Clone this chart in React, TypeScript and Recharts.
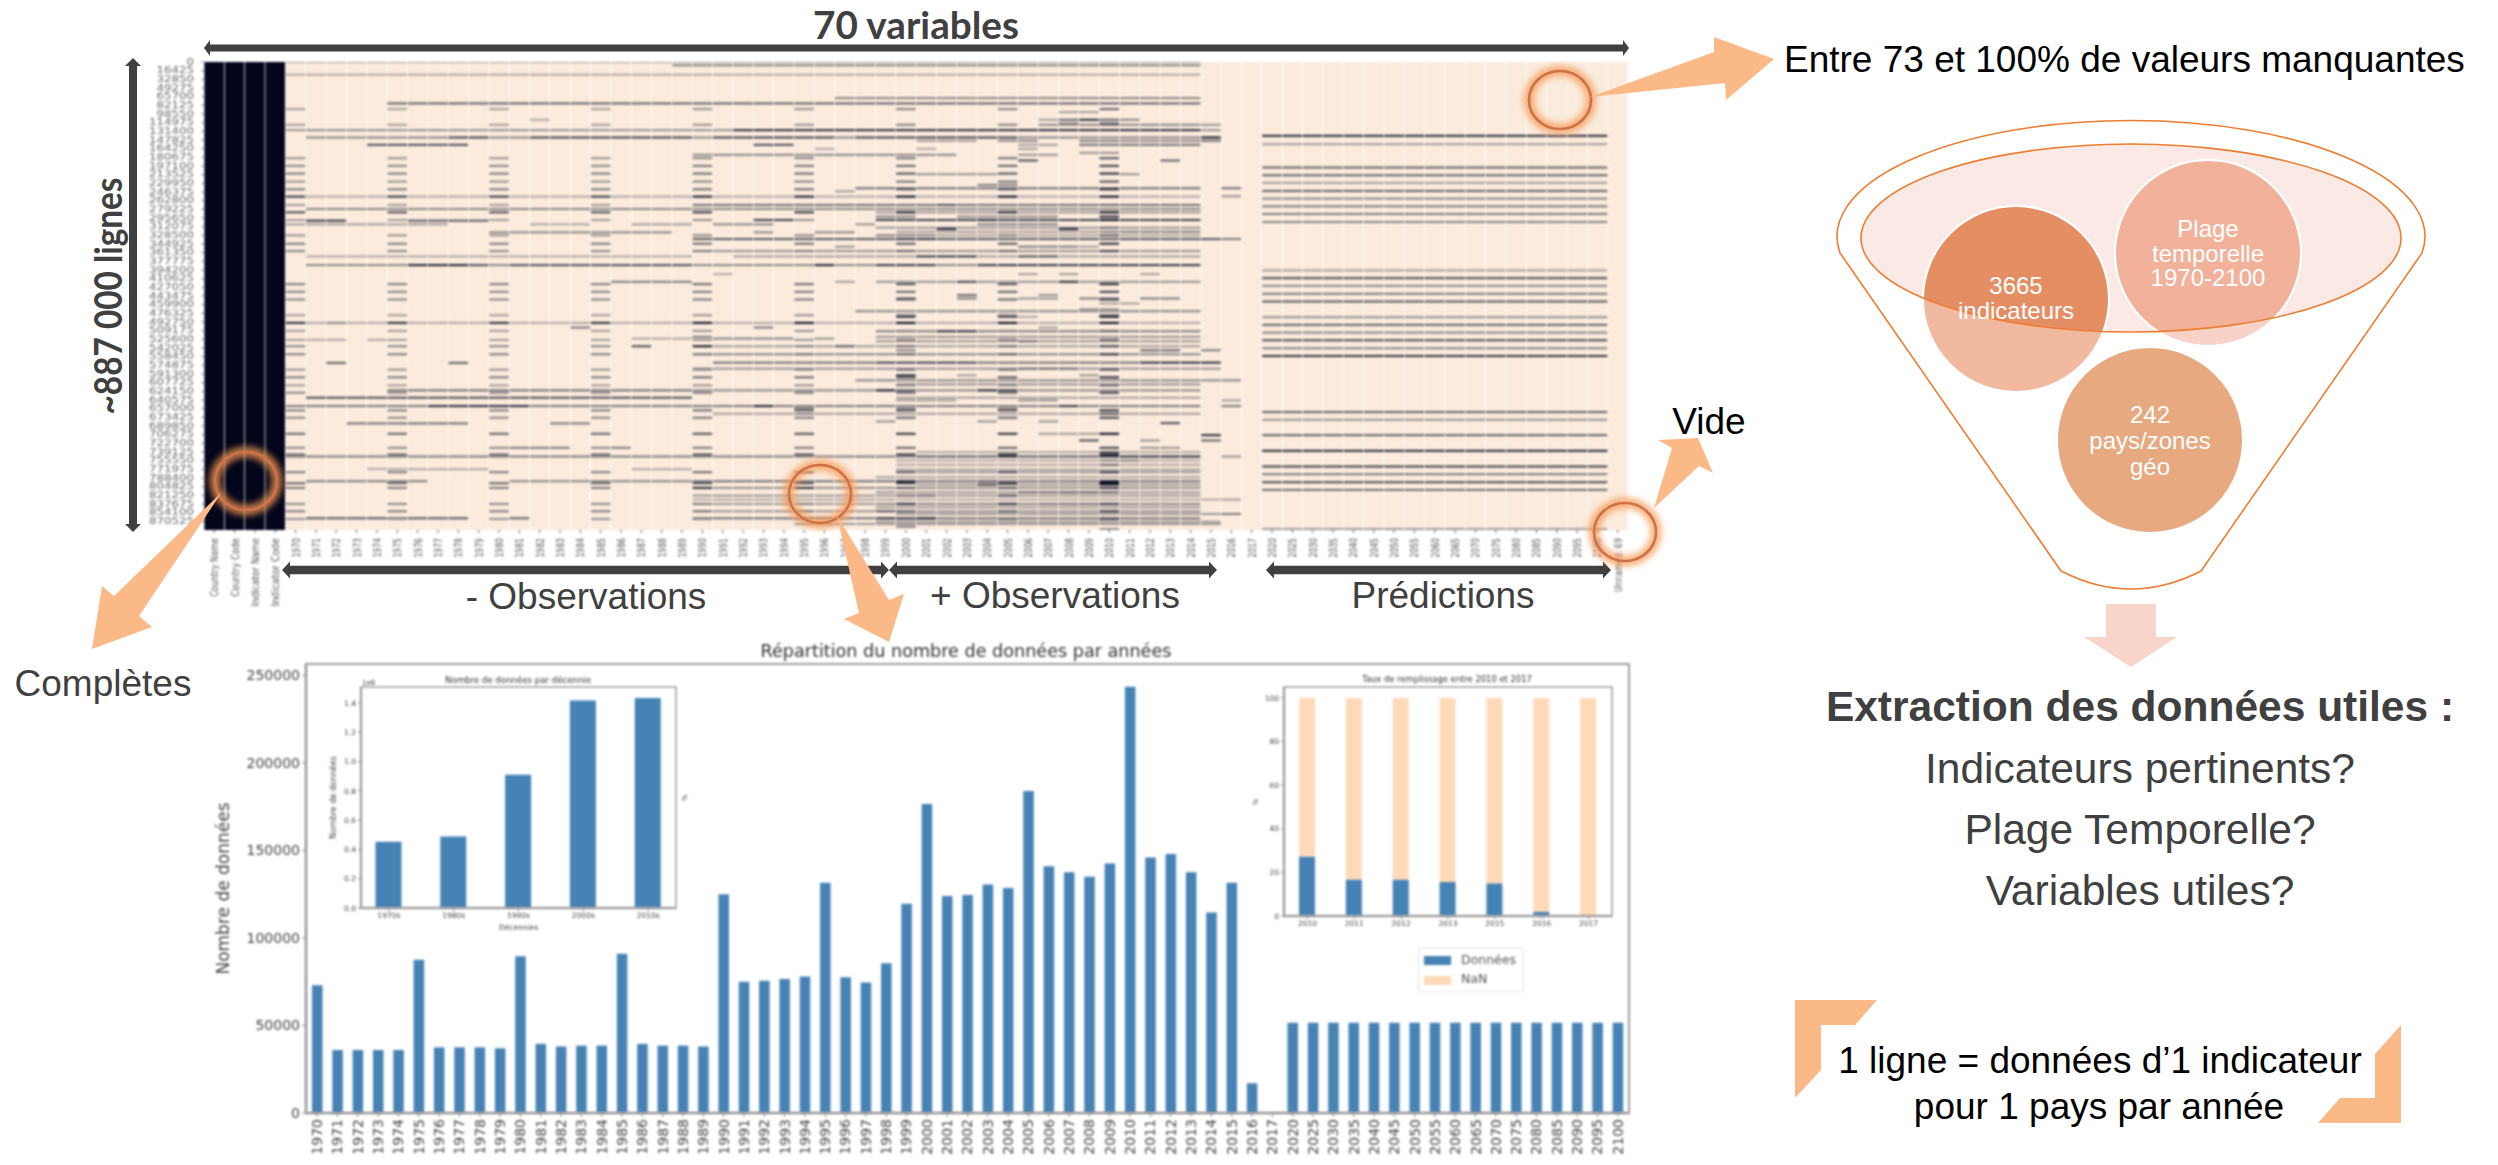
import React from 'react';
import { BarChart, Bar, XAxis, YAxis, ScatterChart, Scatter, Legend } from 'recharts';

// ---------- heatmap data ----------
const heatColumns = ['Country Name','Country Code','Indicator Name','Indicator Code','1970','1971','1972','1973','1974','1975','1976','1977','1978','1979','1980','1981','1982','1983','1984','1985','1986','1987','1988','1989','1990','1991','1992','1993','1994','1995','1996','1997','1998','1999','2000','2001','2002','2003','2004','2005','2006','2007','2008','2009','2010','2011','2012','2013','2014','2015','2016','2017','2020','2025','2030','2035','2040','2045','2050','2055','2060','2065','2070','2075','2080','2085','2090','2095','2100','Unnamed: 69'];
const rowLabels = [0,16425,32850,49275,65700,82125,98550,114975,131400,147825,164250,180675,197100,213525,229950,246375,262800,279225,295650,312075,328500,344925,361350,377775,394200,410625,427050,443475,459900,476325,492750,509175,525600,542025,558450,574875,591300,607725,624150,640575,657000,673425,689850,706275,722700,739125,755550,771975,788400,804825,821250,837675,854100,870525];
const rowsPerBin = 633;
const completeColumns = [0,1,2,3];
const fiveYearColumns = [4,9,14,19,24,29,34,39,44];
const fiveYearWeights = [1,1,1,1,1.15,1.15,1.35,1.35,1.7];
// [row bin, shade] of rows only filled every fifth year
const fiveYearRows = [[141,.35],[188,.35],[288,.4],[311,.45],[334,.5],[358,.4],[381,.5],[403,.8],[428,.35],[450,.7],[473,.35],[519,.4],[544,.5],[566,.45],[665,.5],[688,.45],[711,.45],[758,.35],[781,.85],[805,.35],[832,.35],[851,.45],[875,.5],[921,.4],[944,.5],[968,.35],[990,.45],[1043,.5],[1065,.45],[1113,.6],[1155,.45],[1175,.6],[1228,.5],[1261,.6],[1275,.5],[1323,.45],[1345,.5],[1368,.4]];
// [row bin, first column, last column, shade]
const heatSegments = [
[0,4,48,.35],[10,23,48,.45],[38,4,48,.3],[108,31,48,.45],[124,9,48,.6],[150,42,43,.35],[173,16,16,.3],[173,41,41,.35],[173,42,42,.6],[173,43,43,.85],[173,44,44,.6],[173,45,45,.45],[183,42,42,.4],[183,44,44,.5],[188,41,48,.45],[188,49,49,.4],
[204,4,49,.4],[204,26,48,.85],[226,5,48,.45],[226,12,13,.75],[226,16,23,.75],[226,25,30,.75],[226,32,39,.75],[226,49,49,.95],[236,35,37,.35],[236,39,40,.45],[236,43,44,.5],[236,45,48,.45],[236,49,49,.55],[248,8,12,.7],[248,27,28,.7],[248,40,41,.35],[248,43,44,.55],[248,45,48,.55],[260,30,30,.3],[260,35,35,.3],[260,40,40,.35],[272,43,44,.4],[278,24,36,.45],[278,40,41,.4],[295,40,40,.7],[295,47,47,.6],
[336,35,38,.4],[336,45,45,.4],[368,38,39,.5],[378,32,48,.55],[378,50,50,.55],[387,31,31,.35],[402,50,50,.4],[403,4,48,.3],[428,24,48,.55],[428,36,36,.7],[440,5,48,.45],[440,33,34,.4],[450,33,48,.38],[450,44,44,.95],[463,33,34,.5],[463,37,41,.45],[463,44,44,.9],[473,33,48,.75],[473,27,28,.75],[473,38,38,.85],[473,44,44,1],[475,5,6,.8],[475,10,13,.65],[486,4,11,.35],[486,16,18,.3],[486,21,23,.35],[486,25,27,.45],[486,32,32,.4],[486,38,41,.5],[496,33,48,.38],[496,44,44,.6],[500,36,36,.85],[500,42,42,.85],[508,34,48,.35],[508,44,48,.5],[510,14,22,.45],[510,27,27,.45],[510,30,31,.45],[519,34,48,.33],[519,33,35,.5],[530,24,49,.65],[530,34,35,.8],[530,50,50,.5],
[553,31,31,.4],[553,40,42,.5],[553,43,43,.35],[566,24,48,.4],[582,5,23,.3],[582,26,48,.35],[582,35,37,.8],[582,40,41,.7],[608,5,48,.45],[608,10,12,.9],[608,13,13,.7],[608,15,23,.7],[608,30,30,.9],[608,33,35,.8],[608,38,48,.8],[635,25,25,.3],[635,40,40,.35],[635,42,42,.35],[635,46,46,.35],[658,20,23,.5],[658,31,31,.35],[658,33,48,.4],[658,37,37,.75],[658,42,42,.85],[698,37,37,.6],[698,41,41,.4],[708,34,34,.7],[708,37,37,.5],[708,40,41,.4],[708,43,44,.5],[708,46,47,.5],[723,44,45,.35],[740,43,43,.35],[740,44,44,.35],[746,32,48,.45],[763,34,34,.8],[763,39,39,.7],[763,44,44,.9],[763,40,40,.3],
[781,4,48,.3],[781,6,6,.45],[795,18,18,.5],[795,27,27,.5],[795,41,41,.35],[806,33,48,.5],[806,36,37,.85],[823,33,48,.4],[823,24,24,.5],[828,21,23,.3],[828,25,25,.45],[828,26,28,.45],[828,30,30,.4],[832,5,6,.3],[832,8,8,.3],[836,33,48,.38],[836,40,40,.6],[851,21,21,.7],[851,24,24,.95],[851,31,31,.65],[851,25,48,.35],[863,34,34,.5],[863,46,47,.6],[863,49,49,.5],[875,24,48,.45],[900,25,48,.55],[900,33,37,.75],[900,46,49,.85],[901,6,6,.6],[901,12,12,.6],[918,24,49,.4],[918,40,42,.6],[938,34,34,.85],[938,37,37,.35],[938,43,43,.4],[953,32,50,.45],[965,34,48,.4],
[983,9,23,.55],[983,24,48,.45],[983,33,33,.95],[983,34,34,.7],[983,39,39,.85],[983,38,38,.9],[1005,5,23,.7],[1005,34,48,.35],[1013,34,36,.35],[1013,40,41,.4],[1013,50,50,.35],[1030,4,48,.5],[1030,11,15,.85],[1030,27,27,.9],[1030,42,42,.8],[1030,50,50,.5],[1038,29,29,.6],[1038,34,34,.5],[1038,39,39,.5],[1053,25,48,.35],[1053,44,44,.7],[1053,29,29,.5],[1076,33,33,.4],[1076,38,38,.4],[1076,41,41,.4],[1081,47,47,.7],[1082,7,12,.55],[1082,17,18,.5],[1113,41,43,.35],[1113,39,39,.85],[1113,44,44,.9],[1117,49,49,.85],[1133,43,43,.7],[1133,49,49,.6],[1133,46,46,.4],[1155,15,17,.5],[1155,20,20,.5],[1155,46,47,.4],
[1168,35,48,.3],[1168,44,44,.7],[1181,4,48,.5],[1181,35,43,.65],[1181,44,48,.85],[1181,39,39,.9],[1181,50,50,.4],[1193,34,48,.3],[1193,44,45,.5],[1206,34,48,.3],[1206,44,44,.6],[1218,8,8,.3],[1219,9,13,.3],[1219,21,23,.3],[1220,34,48,.33],[1228,34,48,.38],[1228,39,39,.75],[1228,44,44,.8],[1243,33,48,.33],[1255,5,10,.5],[1255,15,23,.45],[1255,24,48,.55],[1255,35,37,.55],[1255,38,38,.7],[1255,44,44,1],[1255,34,34,.95],[1265,35,48,.38],[1265,38,38,.8],[1265,44,44,.9],[1275,24,48,.42],[1275,24,24,.85],[1275,29,29,.85],[1288,33,48,.38],[1288,40,41,.6],[1288,42,44,.65],[1298,24,48,.38],[1298,34,35,.6],[1298,39,39,.75],[1310,24,49,.3],[1310,50,50,.35],[1323,24,48,.38],[1323,33,48,.45],[1323,41,43,.55],[1323,34,34,.85],[1323,39,39,.85],[1323,44,44,.8],[1333,33,48,.38],[1345,24,48,.4],[1345,33,33,.7],[1353,34,49,.38],[1353,50,50,.5],[1366,5,12,.65],[1366,15,15,.6],[1366,24,48,.55],[1366,33,33,.85],[1366,34,35,.95],[1366,44,44,.7],[1376,33,49,.35],[1383,29,49,.38],[1391,34,34,.5],[1398,44,44,.4]
];
// [row bin, shade] of the rows filled from 2020 to 2100
const predictionRows = [[221,.85],[246,.35],[316,.6],[339,.6],[362,.35],[386,.6],[409,.45],[432,.5],[455,.5],[479,.45],[624,.35],[647,.7],[670,.45],[694,.5],[717,.65],[764,.4],[787,.6],[810,.45],[833,.7],[857,.45],[880,.8],[1048,.6],[1071,.4],[1117,.6],[1164,.85],[1211,.75],[1234,.5],[1258,.7],[1281,.55],[1398,.35]];
const predictionFirstColumn = 52;
const predictionLastColumn = 68;

// ---------- bar chart data ----------
const yearLabels = ['1970','1971','1972','1973','1974','1975','1976','1977','1978','1979','1980','1981','1982','1983','1984','1985','1986','1987','1988','1989','1990','1991','1992','1993','1994','1995','1996','1997','1998','1999','2000','2001','2002','2003','2004','2005','2006','2007','2008','2009','2010','2011','2012','2013','2014','2015','2016','2017','2020','2025','2030','2035','2040','2045','2050','2055','2060','2065','2070','2075','2080','2085','2090','2095','2100'];
const yearCounts = [73000,36000,36000,36000,36000,87500,37500,37500,37500,37000,89500,39500,38000,38500,38500,91000,39500,38500,38500,38000,125000,75000,75500,76500,78000,131500,77500,74500,85500,119500,176500,124000,124500,130500,128500,184000,141000,137500,135000,142500,243500,146000,148000,137500,114500,131500,17000,0,51500,51500,51500,51500,51500,51500,51500,51500,51500,51500,51500,51500,51500,51500,51500,51500,51500];
const decadeLabels = ['1970s','1980s','1990s','2000s','2010s'];
const decadeCounts = [452000,489000,911000,1418000,1434000];
const fillYears = ['2010','2011','2012','2013','2015','2016','2017'];
const fillData = [27.3,16.7,16.7,15.6,15,2,0];
const fillNaN = [72.7,83.3,83.3,84.4,85,98,100];

const yearTable = yearLabels.map((year, i) => ({ year, count: yearCounts[i] }));
const decadeTable = decadeLabels.map((decade, i) => ({ pos: i, decade, count: decadeCounts[i] }));
const fillTable = fillYears.map((year, i) => ({ year, data: fillData[i], nan: fillNaN[i] }));

const columnTable = heatColumns.map((name, i) => ({ col: i + 0.5, row: 0, name, complete: completeColumns.includes(i) }));
const cellMap = new Map<string, any>();
const addCell = (bin: number, col: number, shade: number) => {
  const key = `${bin}-${col}`;
  const prev = cellMap.get(key);
  if (!prev || prev.shade < shade) cellMap.set(key, { col: col + 0.5, row: bin * rowsPerBin, shade: Math.min(shade, 1) });
};
heatSegments.forEach(([bin, a, b, shade]) => { for (let c = a; c <= b; c++) addCell(bin, c, shade); });
fiveYearRows.forEach(([bin, shade]) => fiveYearColumns.forEach((c, i) => addCell(bin, c, shade * fiveYearWeights[i])));
predictionRows.forEach(([bin, shade]) => { for (let c = predictionFirstColumn; c <= predictionLastColumn; c++) addCell(bin, c, shade); });
const cellTable = Array.from(cellMap.values());

const CREAM = [250, 235, 221];
const INK = [3, 5, 26];
const shadeColor = (s: number) => `rgb(${CREAM.map((v, i) => Math.round(v + (INK[i] - v) * s)).join(',')})`;

const CELL_W = 19.6;
const PLOT_H = 468;
const ColumnShape = (p: any) => (
  <rect x={p.cx - CELL_W / 2} y={p.cy} width={CELL_W} height={PLOT_H} fill={p.payload.complete ? '#03051a' : '#faebdd'} />
);
const CellShape = (p: any) => (
  <rect x={p.cx - CELL_W / 2} y={p.cy - 1} width={CELL_W} height={2} fill={shadeColor(p.payload.shade)} />
);

const SANS = '"DejaVu Sans", sans-serif';
const ARIAL = '"Liberation Sans", Arial, sans-serif';
const TICK = '#444';
const STEEL = '#4682b4';
const PEACH = '#ffdab9';
const ORANGE = '#fcb988';
const DARK = '#404040';

const HeatXTick = ({ x, y, payload }: any) => {
  const label = heatColumns[Math.floor(payload.value)];
  return (
    <text transform={`rotate(-90 ${x} ${y + 3})`} x={x} y={y + 3} textAnchor="end" dominantBaseline="central" fontSize={10.5} fontFamily={SANS} fill="#555"
      textLength={label.length * 4.9} lengthAdjust="spacingAndGlyphs">{label}</text>
  );
};
const HeatYTick = ({ x, y, payload }: any) => {
  const label = String(payload.value);
  return (
    <text x={x - 5} y={y} textAnchor="end" dominantBaseline="central" fontSize={8} fontFamily={SANS} fill="#666"
      textLength={label.length * 7.5} lengthAdjust="spacingAndGlyphs">{label}</text>
  );
};

const LegendBox = () => (
  <div style={{ width: 104, height: 42, border: '1px solid #e4e4e4', borderRadius: 2, background: '#fff', fontFamily: SANS, fontSize: 12.5, color: '#555', position: 'relative' }}>
    <div style={{ position: 'absolute', left: 5, top: 7, width: 27, height: 9, background: STEEL }} />
    <div style={{ position: 'absolute', left: 42, top: 3 }}>Données</div>
    <div style={{ position: 'absolute', left: 5, top: 27, width: 27, height: 9, background: PEACH }} />
    <div style={{ position: 'absolute', left: 42, top: 22 }}>NaN</div>
  </div>
);

const dblH = (x0: number, x1: number, y: number, t: number, hw: number, hl: number) =>
  `M${x0} ${y} L${x0 + hl} ${y - hw} V${y - t} H${x1 - hl} V${y - hw} L${x1} ${y} L${x1 - hl} ${y + hw} V${y + t} H${x0 + hl} V${y + hw} Z`;
const dblV = (x: number, y0: number, y1: number, t: number, hw: number, hl: number) =>
  `M${x} ${y0} L${x - hw} ${y0 + hl} H${x - t} V${y1 - hl} H${x - hw} L${x} ${y1} L${x + hw} ${y1 - hl} H${x + t} V${y0 + hl} H${x + hw} Z`;

const Ring = ({ cx, cy }: { cx: number; cy: number }) => (
  <g>
    <ellipse cx={cx} cy={cy} rx={31} ry={29} fill="none" stroke="#f59a52" strokeWidth={11} opacity={0.75} filter="url(#glow)" />
    <ellipse cx={cx} cy={cy} rx={31} ry={29} fill="none" stroke="#d0714c" strokeWidth={2.6} />
  </g>
);

const rings = [[1560, 100], [246, 481], [820, 494], [1625, 532]];
const orangeArrows = [
  '1590,97 1714,52 1714,37 1774,59 1726,100 1725,83',
  '222,492 114,596 102,586 92,649 152,627 139,616',
  '837,516 889,600 904,594 889,642 844,619 859,613',
  '1654,508 1699,466 1713,473 1698,438 1658,440 1672,448',
];

const T = ({ x, y, size, fill = '#000', weight, anchor = 'middle', family = ARIAL, children, rotate, length }: any) => (
  <text x={x} y={y} fontSize={size} fill={fill} fontWeight={weight} textAnchor={anchor} fontFamily={family} dominantBaseline="central"
    textLength={length} lengthAdjust={length ? 'spacingAndGlyphs' : undefined}
    transform={rotate ? `rotate(${rotate} ${x} ${y})` : undefined}>{children}</text>
);

const abs = (left: number, top: number, extra: any = {}): any => ({ position: 'absolute', left, top, ...extra });

export default function App() {
  return (
    <div style={abs(0, 0, { width: 2498, height: 1165, overflow: 'hidden', background: '#fff' })}>
      {/* heatmap */}
      <div style={abs(130, 50, { filter: 'blur(0.9px)' })}>
        <ScatterChart width={1520} height={570} margin={{ top: 12, right: 22, bottom: 20, left: 14 }} style={{ overflow: 'visible' }}>
          <XAxis type="number" dataKey="col" domain={[0, 70]} ticks={columnTable.map((c) => c.col)} interval={0} height={70}
            tick={HeatXTick} tickSize={3} axisLine={false} stroke="#666" />
          <YAxis type="number" dataKey="row" reversed domain={[0, 886850]} ticks={rowLabels} interval={0} width={60} allowDataOverflow
            axisLine={false} tickSize={3} tick={HeatYTick} stroke="#888" />
          <Scatter data={columnTable} shape={ColumnShape} isAnimationActive={false} />
          <Scatter data={cellTable} shape={CellShape} isAnimationActive={false} />
        </ScatterChart>
      </div>

      {/* yearly bars */}
      <div style={abs(200, 640, { filter: 'blur(0.9px)' })}>
        <BarChart width={1450} height={525} data={yearTable} margin={{ top: 24, right: 21, bottom: 0, left: 0 }} barCategoryGap={0}>
          <XAxis dataKey="year" interval={0} height={52} angle={-90} textAnchor="end" tickSize={4} padding={{ left: 1, right: 1 }}
            tick={{ fontSize: 14, fill: TICK, fontFamily: SANS, dx: -5 }} stroke="#888" />
          <YAxis domain={[0, 256500]} ticks={[0, 50000, 100000, 150000, 200000, 250000]} width={106} tickSize={4}
            tick={{ fontSize: 14, fill: TICK, fontFamily: SANS }} stroke="#888"
            label={{ value: 'Nombre de données', angle: -90, position: 'center', dx: -30, fontSize: 17, fill: TICK, fontFamily: SANS }} />
          <Bar dataKey="count" fill={STEEL} barSize={10.5} isAnimationActive={false} />
        </BarChart>
      </div>

      {/* decades inset */}
      <div style={abs(320, 670, { filter: 'blur(0.8px)' })}>
        <BarChart width={370} height={270} data={decadeTable} margin={{ top: 17, right: 14, bottom: 0, left: 0 }}>
          <XAxis type="number" dataKey="pos" domain={[-0.43, 4.43]} ticks={[0, 1, 2, 3, 4]} tickFormatter={(v: number) => decadeLabels[v]} height={32} tickSize={3} allowDataOverflow
            tick={{ fontSize: 7.5, fill: TICK, fontFamily: SANS }} stroke="#888"
            label={{ value: 'Décennies', position: 'insideBottom', offset: 10, fontSize: 7.5, fill: TICK, fontFamily: SANS }} />
          <YAxis domain={[0, 1510000]} ticks={[0, 200000, 400000, 600000, 800000, 1000000, 1200000, 1400000]} tickFormatter={(v: number) => (v / 1e6).toFixed(1)} width={41} tickSize={3}
            tick={{ fontSize: 7.5, fill: TICK, fontFamily: SANS }} stroke="#888"
            label={{ value: 'Nombre de données', angle: -90, position: 'center', dx: -7, fontSize: 8.2, fill: TICK, fontFamily: SANS }} />
          <Bar dataKey="count" fill={STEEL} barSize={26} isAnimationActive={false} />
        </BarChart>
      </div>

      {/* fill-rate inset */}
      <div style={abs(1250, 670, { filter: 'blur(0.8px)' })}>
        <BarChart width={380} height={330} data={fillTable} margin={{ top: 17, right: 18, bottom: 60, left: 0 }}>
          <XAxis dataKey="year" height={24} tickSize={3} interval={0} tick={{ fontSize: 7.5, fill: TICK, fontFamily: SANS }} stroke="#888" />
          <YAxis domain={[0, 105]} ticks={[0, 20, 40, 60, 80, 100]} width={34} tickSize={3} tick={{ fontSize: 7.5, fill: TICK, fontFamily: SANS }} stroke="#888" />
          <Bar dataKey="data" name="Données" stackId="a" fill={STEEL} barSize={16} isAnimationActive={false} />
          <Bar dataKey="nan" name="NaN" stackId="a" fill={PEACH} barSize={16} isAnimationActive={false} />
          <Legend layout="horizontal" verticalAlign="middle" align="center" content={<LegendBox />} wrapperStyle={{ left: 168, top: 278, width: 106, height: 44 }} />
        </BarChart>
      </div>

      {/* blurred chart frames and titles */}
      <svg width={2498} height={1165} style={abs(0, 0, { filter: 'blur(0.8px)', pointerEvents: 'none' })}>
        <g fill="none" stroke="#a0a0a0">
          <rect x={306} y={664} width={1323} height={449} strokeWidth={2} />
          <rect x={361} y={687} width={315} height={221} strokeWidth={1.6} />
          <rect x={1284} y={687} width={328} height={229} strokeWidth={1.6} />
        </g>
        <T x={966} y={651} size={17.6} fill="#333" family={SANS}>Répartition du nombre de données par années</T>
        <T x={518} y={680} size={8.6} fill="#333" family={SANS}>Nombre de données par décennie</T>
        <T x={362} y={683} size={7} fill="#444" anchor="start" family={SANS}>1e6</T>
        <T x={1447} y={679} size={8.4} fill="#333" family={SANS}>Taux de remplissage entre 2010 et 2017</T>
        <T x={685} y={798} size={7} fill={TICK} family={SANS} rotate={-90}>%</T>
        <T x={1256} y={802} size={7} fill={TICK} family={SANS} rotate={-90}>%</T>
      </svg>

      {/* slide annotations */}
      <svg width={2498} height={1165} style={abs(0, 0, { pointerEvents: 'none' })}>
        <defs>
          <filter id="glow" x="-40%" y="-40%" width="180%" height="180%"><feGaussianBlur stdDeviation="3.2" /></filter>
          <clipPath id="innerClip"><ellipse cx={2131} cy={238} rx={270} ry={94} /></clipPath>
        </defs>

        <path d={dblH(204, 1629, 48, 3.6, 8, 6)} fill={DARK} />
        <path d={dblV(133, 58, 532, 4, 8, 8)} fill={DARK} />
        <path d={dblH(282, 889, 570, 4.2, 8.5, 8)} fill={DARK} />
        <path d={dblH(889, 1217, 570, 4.2, 8.5, 8)} fill={DARK} />
        <path d={dblH(1266, 1611, 570, 4.2, 8.5, 8)} fill={DARK} />

        <T x={916} y={24} size={38} fill={DARK} weight={700} family="Lato" length={206}>70 variables</T>
        <T x={107} y={296} size={38} fill={DARK} weight={700} family="Lato" rotate={-90} length={237}>~887 000 lignes</T>
        <T x={586} y={596} size={37} fill={DARK}>- Observations</T>
        <T x={1055} y={595} size={37} fill={DARK}>+ Observations</T>
        <T x={1443} y={595} size={37} fill={DARK}>Prédictions</T>

        {rings.map(([cx, cy]) => <Ring key={cx} cx={cx} cy={cy} />)}
        {orangeArrows.map((points) => <polygon key={points} points={points} fill={ORANGE} />)}

        <T x={1784} y={59} size={37} anchor="start">Entre 73 et 100% de valeurs manquantes</T>
        <T x={103} y={683} size={37} fill={DARK}>Complètes</T>
        <T x={1709} y={421} size={37}>Vide</T>

        {/* funnel */}
        <path d="M1840 253 A294 116 0 1 1 2422 253 L2201 571 Q2131 607 2061 571 Z" fill="#fff" stroke="#ed7d31" strokeWidth={1.6} strokeLinejoin="round" />
        <ellipse cx={2131} cy={238} rx={270} ry={94} fill="#fbe9e5" />
        <circle cx={2016} cy={299} r={93} fill="#f0b9a0" stroke="#fff" strokeWidth={2} />
        <circle cx={2208} cy={253} r={93} fill="#f8d2c6" stroke="#fff" strokeWidth={2} />
        <g clipPath="url(#innerClip)">
          <circle cx={2016} cy={299} r={93} fill="#e58e63" stroke="#fff" strokeWidth={2} />
          <circle cx={2208} cy={253} r={93} fill="#f2b19a" stroke="#fff" strokeWidth={2} />
        </g>
        <ellipse cx={2131} cy={238} rx={270} ry={94} fill="none" stroke="#ed7d31" strokeWidth={1.6} />
        <circle cx={2150} cy={440} r={93} fill="#e6a980" stroke="#fff" strokeWidth={2} />
        <T x={2016} y={285} size={24} fill="#fff">3665</T>
        <T x={2016} y={310} size={24} fill="#fff">indicateurs</T>
        <T x={2208} y={228} size={24} fill="#fff">Plage</T>
        <T x={2208} y={253} size={24} fill="#fff">temporelle</T>
        <T x={2208} y={277} size={24} fill="#fff">1970-2100</T>
        <T x={2150} y={414} size={24} fill="#fff">242</T>
        <T x={2150} y={440} size={24} fill="#fff">pays/zones</T>
        <T x={2150} y={466} size={24} fill="#fff">géo</T>
        <polygon points="2106,604 2156,604 2156,637 2177,637 2131,667 2084,637 2106,637" fill="#f8d5ca" />

        <T x={2140} y={706} size={42.5} fill={DARK} weight={700}>Extraction des données utiles :</T>
        <T x={2140} y={768} size={42.5} fill={DARK}>Indicateurs pertinents?</T>
        <T x={2140} y={829} size={42.5} fill={DARK}>Plage Temporelle?</T>
        <T x={2140} y={890} size={42.5} fill={DARK}>Variables utiles?</T>

        <polygon points="1795,1000 1877,1000 1855,1025 1821,1025 1821,1070 1795,1098" fill={ORANGE} />
        <polygon points="2401,1025 2401,1123 2318,1123 2340,1098 2375,1098 2375,1054" fill={ORANGE} />
        <T x={2100} y={1060} size={37}>1 ligne = données d’1 indicateur</T>
        <T x={2099} y={1106} size={37}>pour 1 pays par année</T>
      </svg>
    </div>
  );
}
